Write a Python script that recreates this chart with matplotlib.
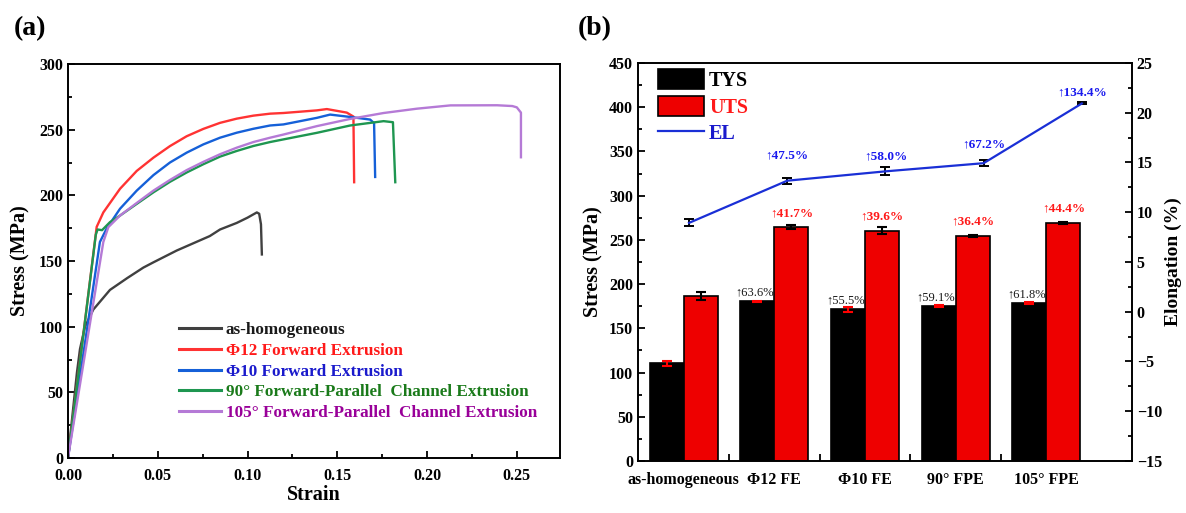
import matplotlib
matplotlib.use('Agg')
import matplotlib.pyplot as plt
import numpy as np
from matplotlib.patches import Patch
from matplotlib.lines import Line2D

plt.rcParams['font.family'] = ['Liberation Serif', 'DejaVu Serif']
plt.rcParams['font.weight'] = 'bold'
plt.rcParams['axes.labelweight'] = 'bold'

# ---- (a) stress-strain curves ----
strain_homo = [0, 0.005, 0.0067, 0.0095, 0.0141, 0.0234, 0.033, 0.042, 0.0476, 0.0606,
               0.079, 0.0847, 0.094, 0.1, 0.1052, 0.1065, 0.1075, 0.108]
stress_homo = [0, 65, 83, 100, 113, 128, 137, 145, 149, 158,
               169, 174, 179, 183, 187, 186, 178, 155]

strain_d12 = [0, 0.016, 0.0197, 0.029, 0.0383, 0.0476, 0.0568, 0.0661, 0.0754, 0.0847,
              0.094, 0.1033, 0.1126, 0.12, 0.1386, 0.1442, 0.1553, 0.159, 0.1594]
stress_d12 = [0, 176, 187, 205, 218.6, 228.7, 237.5, 245, 250.6, 255.2,
              258.4, 260.7, 262.2, 262.7, 264.7, 265.7, 263, 260, 210]

strain_d10 = [0, 0.0178, 0.0215, 0.029, 0.0383, 0.0476, 0.0568, 0.0661, 0.0754, 0.0847,
              0.094, 0.1033, 0.1126, 0.12, 0.1386, 0.146, 0.1572, 0.1683, 0.1705, 0.1711]
stress_d10 = [0, 164.5, 174.6, 189.8, 203.6, 215.4, 225, 232.5, 238.8, 243.9,
              247.7, 250.7, 253.2, 254, 259, 261.5, 259.7, 257.7, 255, 214]

strain_fpe90 = [0, 0.0155, 0.0165, 0.019, 0.0234, 0.029, 0.0383, 0.0476, 0.0568, 0.0661,
                0.0754, 0.0847, 0.094, 0.1033, 0.1126, 0.12, 0.1386, 0.1572, 0.1758, 0.181, 0.1823]
stress_fpe90 = [0, 170, 174, 173.5, 179.6, 184.6, 193.5, 202.3, 210.3, 217.4,
                223.7, 229.5, 233.8, 237.6, 240.6, 242.6, 247.6, 253.2, 256.5, 255.7, 210]

strain_fpe105 = [0, 0.0197, 0.0225, 0.029, 0.0383, 0.0476, 0.0568, 0.0661, 0.0754, 0.0847,
                 0.094, 0.1033, 0.1126, 0.12, 0.1386, 0.1572, 0.1758, 0.1944, 0.213, 0.239,
                 0.2475, 0.25, 0.2523, 0.2523]
stress_fpe105 = [0, 164.5, 175.8, 184.6, 194.2, 203.6, 211.7, 219.2, 225.5, 231.3,
                 236.3, 240.6, 243.9, 246.3, 252.7, 258.2, 262.7, 266, 268.5, 268.6,
                 268, 267, 263, 229]

curve_labels = ['as-homogeneous', 'Φ12 Forward Extrusion', 'Φ10 Forward Extrusion',
                '90° Forward-Parallel  Channel Extrusion', '105° Forward-Parallel  Channel Extrusion']

# ---- (b) strength / elongation ----
groups = ['as-homogeneous', 'Φ12 FE', 'Φ10 FE', '90° FPE', '105° FPE']
tys = [110.3, 180.4, 171.5, 175.5, 178.5]
tys_err = [3, 1, 3, 1, 1]
uts = [186.6, 264.4, 260.5, 254.5, 269.5]
uts_err = [5, 2, 4, 1, 1]
el = [8.93, 13.17, 14.11, 14.93, 20.93]
el_err = [0.35, 0.3, 0.4, 0.3, 0.1]
tys_gain = ['', '↑63.6%', '↑55.5%', '↑59.1%', '↑61.8%']
uts_gain = ['', '↑41.7%', '↑39.6%', '↑36.4%', '↑44.4%']
el_gain = ['', '↑47.5%', '↑58.0%', '↑67.2%', '↑134.4%']
el_label_dy = [0, 14, 6.5, 9.5, 4]

line_colors = ['#404040', '#ff3333', '#1560d8', '#1e9650', '#b57ad6']
text_colors = ['#1a1a1a', '#ff1a1a', '#1a1acc', '#1a7a1a', '#990099']

fig = plt.figure(figsize=(11.86, 5.13), dpi=100)


def style_axis(ax):
    for s in ax.spines.values():
        s.set_linewidth(1.4)
    ax.tick_params(which='both', direction='in', width=1.3, labelsize=11.5)
    ax.tick_params(which='major', length=5)
    ax.tick_params(which='minor', length=3)


# ---------- panel (a) ----------
axa = fig.add_axes([0.0573, 0.1072, 0.4148, 0.768])
curves = [(strain_homo, stress_homo), (strain_d12, stress_d12), (strain_d10, stress_d10),
          (strain_fpe90, stress_fpe90), (strain_fpe105, stress_fpe105)]
for (sx, sy), c, lab in zip(curves, line_colors, curve_labels):
    axa.plot(sx, sy, color=c, lw=1.7, label=lab)
axa.set_xlim(0, 0.274)
axa.set_ylim(0, 300)
axa.set_xticks(np.arange(0, 0.26, 0.05))
axa.set_xticks(np.arange(0.025, 0.27, 0.05), minor=True)
axa.set_yticks(np.arange(0, 301, 50))
axa.set_yticks(np.arange(25, 300, 50), minor=True)
axa.xaxis.set_major_formatter(plt.FormatStrFormatter('%.2f'))
style_axis(axa)
axa.tick_params(axis='x', which='major', pad=7)
axa.set_xlabel('Strain', fontsize=14.5, labelpad=1)
axa.set_ylabel('Stress (MPa)', fontsize=14.5, labelpad=6)
leg = axa.legend(loc='upper left', bbox_to_anchor=(0.225, 0.345), frameon=False,
                 fontsize=12.3, handlelength=2.5, handletextpad=0.25, labelspacing=0.28,
                 borderpad=0, borderaxespad=0)
for t, c in zip(leg.get_texts(), text_colors):
    t.set_color(c)
for h in leg.get_lines():
    h.set_linewidth(2.2)
fig.text(0.012, 0.945, '(a)', fontsize=20, fontweight='bold', va='center')

# ---------- panel (b) ----------
axb = fig.add_axes([0.5379, 0.1014, 0.4165, 0.7758])
x = np.arange(len(groups))
w = 0.375
axb.bar(x - w / 2, tys, w, color='black', edgecolor='black', lw=1.2, zorder=2,
        yerr=tys_err, error_kw=dict(ecolor='red', capsize=3.5, elinewidth=1.5, capthick=1.5))
axb.bar(x + w / 2, uts, w, color='#ee0000', edgecolor='black', lw=1.2, zorder=2,
        yerr=uts_err, error_kw=dict(ecolor='black', capsize=3.5, elinewidth=1.5, capthick=1.5))
for i in range(len(groups)):
    if tys_gain[i]:
        axb.annotate(tys_gain[i], (x[i] - w / 2, tys[i]), xytext=(-2, 2),
                     textcoords='offset points', ha='center', va='bottom',
                     fontsize=9, color='#1a1a1a', fontweight='normal')
    if uts_gain[i]:
        axb.annotate(uts_gain[i], (x[i] + w / 2, uts[i]), xytext=(0, 6),
                     textcoords='offset points', ha='center', va='bottom',
                     fontsize=9.5, color='#ff1a1a')
axb.set_xlim(-0.504, 4.943)
axb.set_ylim(0, 450)
axb.set_xticks(x)
axb.set_xticklabels(groups, fontsize=11.5)
axb.set_xticks(x[:-1] + 0.5, minor=True)
axb.set_yticks(np.arange(0, 451, 50))
axb.set_yticks(np.arange(25, 450, 50), minor=True)
style_axis(axb)
axb.tick_params(axis='x', which='major', length=0, pad=8)
axb.tick_params(axis='x', which='minor', length=5)
axb.set_ylabel('Stress (MPa)', fontsize=14.5, labelpad=4)

# elongation on its own x scale, right y axis
axe = fig.add_axes([0.5379, 0.1014, 0.4165, 0.7758], label='el')
axe.patch.set_visible(False)
for s in axe.spines.values():
    s.set_visible(False)
axe.xaxis.set_visible(False)
axe.yaxis.tick_right()
axe.yaxis.set_label_position('right')
axe.errorbar(x, el, yerr=el_err, color='#1a2fd6', lw=1.6, ecolor='black',
             capsize=3.5, elinewidth=1.4, capthick=1.4)
for i in range(len(groups)):
    if el_gain[i]:
        axe.annotate(el_gain[i], (x[i], el[i]), xytext=(0, el_label_dy[i]),
                     textcoords='offset points', ha='center', va='bottom',
                     fontsize=9.5, color='#1a1aee')
axe.set_xlim(-0.52, 4.51)
axe.set_ylim(-15, 25)
axe.set_yticks(np.arange(-15, 26, 5))
axe.set_yticks(np.arange(-12.5, 25, 5), minor=True)
style_axis(axe)
axe.set_ylabel('Elongation (%)', fontsize=14, labelpad=2)

handles = [Patch(facecolor='black', edgecolor='black', lw=1.2),
           Patch(facecolor='#ee0000', edgecolor='black', lw=1.2),
           Line2D([], [], color='#1a2fd6', lw=1.6)]
legb = axb.legend(handles, ['TYS', 'UTS', 'EL'], loc='upper left', bbox_to_anchor=(0.04, 0.985),
                  frameon=False, fontsize=14.5, handlelength=2.3, handleheight=1.15,
                  handletextpad=0.25, labelspacing=0.25, borderpad=0, borderaxespad=0)
for t, c in zip(legb.get_texts(), ['black', '#ff1a1a', '#1a1acc']):
    t.set_color(c)
fig.text(0.487, 0.945, '(b)', fontsize=20, fontweight='bold', va='center')

fig.savefig('out.png', dpi=100)
